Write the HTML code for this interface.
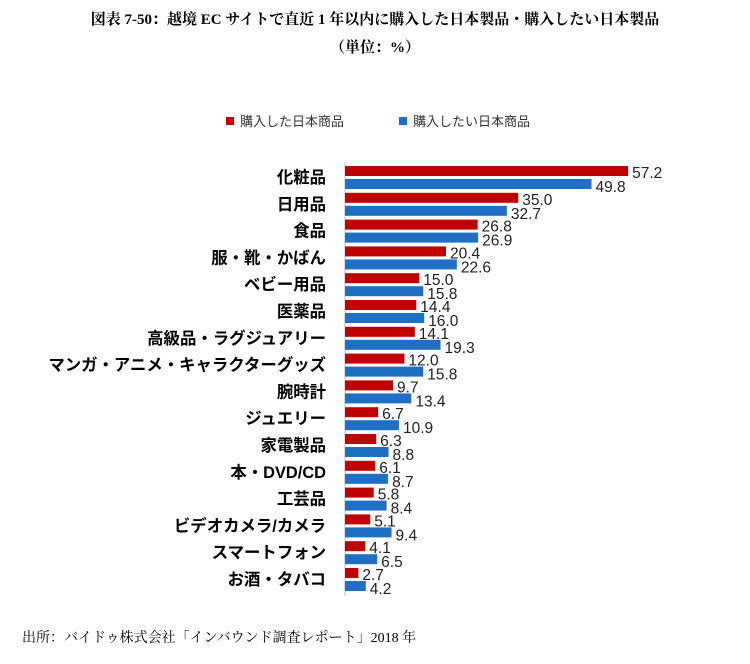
<!DOCTYPE html>
<html><head><meta charset="utf-8"><style>
body{margin:0;background:#fff;width:750px;height:664px;overflow:hidden;position:relative;font-family:"Liberation Sans","Noto Sans CJK JP",sans-serif}
.t{position:absolute;left:0;width:750px;text-align:center;font-family:"Liberation Serif","Noto Serif CJK SC",serif;font-weight:bold;font-size:15px;color:#000}
.src{position:absolute;left:22px;top:627px;font-family:"Liberation Serif","Noto Serif CJK SC",serif;font-size:14px}
</style></head><body>
<div class="t" style="top:8px">図表 7-50：越境 EC サイトで直近 1 年以内に購入した日本製品・購入したい日本製品</div>
<div class="t" style="top:36px">（単位：%）</div>
<svg width="750" height="664" style="position:absolute;left:0;top:0" font-family="Liberation Sans, Noto Sans CJK JP, sans-serif">
<rect x="226" y="117" width="8" height="8" fill="#c00000"/>
<text x="240" y="126" font-size="13" fill="#333">購入した日本商品</text>
<rect x="399" y="117" width="8" height="8" fill="#1f6fc5"/>
<text x="413" y="126" font-size="13" fill="#333">購入したい日本商品</text>
<line x1="345" y1="162" x2="345" y2="596" stroke="#bbb"/>
<g id="g"></g>
</svg>
<div class="src">出所：バイドゥ株式会社「インバウンド調査レポート」2018 年</div>
<script>
var d=[["化粧品",57.2,49.8],["日用品",35.0,32.7],["食品",26.8,26.9],["服・靴・かばん",20.4,22.6],["ベビー用品",15.0,15.8],["医薬品",14.4,16.0],["高級品・ラグジュアリー",14.1,19.3],["マンガ・アニメ・キャラクターグッズ",12.0,15.8],["腕時計",9.7,13.4],["ジュエリー",6.7,10.9],["家電製品",6.3,8.8],["本・DVD/CD",6.1,8.7],["工芸品",5.8,8.4],["ビデオカメラ/カメラ",5.1,9.4],["スマートフォン",4.1,6.5],["お酒・タバコ",2.7,4.2]];
var s="",k=4.95;
d.forEach(function(r,i){var y=166+i*26.8;
s+='<rect x="345" y="'+y+'" width="'+r[1]*k+'" height="10" fill="#c00000"/>';
s+='<rect x="345" y="'+(y+13)+'" width="'+r[2]*k+'" height="10" fill="#1f6fc5"/>';
s+='<text x="'+(349+r[1]*k)+'" y="'+(y+12)+'" font-size="15.5" fill="#222">'+r[1].toFixed(1)+'</text>';
s+='<text x="'+(349+r[2]*k)+'" y="'+(y+26)+'" font-size="15.5" fill="#222">'+r[2].toFixed(1)+'</text>';
s+='<text x="326" y="'+(y+17)+'" font-size="16.4" font-weight="bold" text-anchor="end" fill="#000">'+r[0]+'</text>';});
document.getElementById("g").innerHTML=s;
</script>
</body></html>
